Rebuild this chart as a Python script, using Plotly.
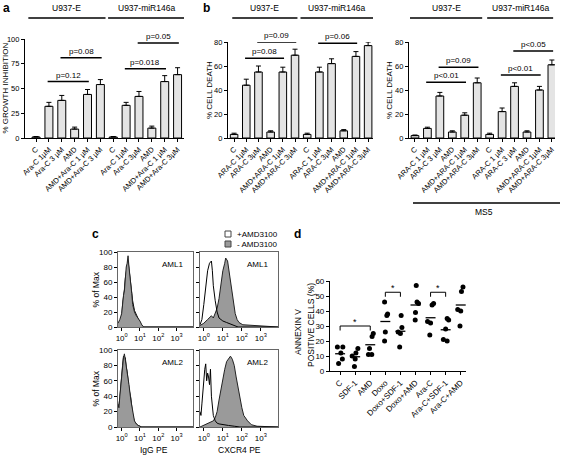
import plotly.graph_objects as go

W, H = 561, 456
FONT = "Arial, Liberation Sans, sans-serif"

# ---------------- Panel a data ----------------
a_labels = ["C", "Ara-C 1µM", "Ara-C 3 µM", "AMD", "AMD+Ara-C 1 µM", "AMD+Ara-C 3 µM",
            "C", "Ara-C 1µM", "Ara-C 3µM", "AMD", "AMD+Ara-C 1 µM", "AMD+Ara-C 3µM"]
a_values = [1, 32, 38, 9, 44, 54, 1, 33, 42, 10, 57, 64]
a_errors = [0.5, 4, 5, 2, 5, 5, 0.5, 3, 5, 2, 6, 7]
a_ptext = ["p=0.12", "p=0.08", "p=0.018", "p=0.05"]
a_pfrom = [1, 2, 7, 8]
a_pto = [4, 5, 10, 11]
a_py = [57, 81, 70, 96]

# ---------------- Panel b data (no stroma) ----------------
b_labels = ["C", "ARA-C 1µM", "ARA-C 3µM", "AMD", "AMD+ARA-C 1µM", "AMD+ARA-C 3µM",
            "C", "ARA-C 1 µM", "ARA-C 3µM", "AMD", "AMD+ARA-C 1µM", "AMD+ARA-C 3µM"]
b_values = [3, 44, 55, 5, 55, 69, 3, 55, 62, 6, 68, 77]
b_errors = [1, 5, 5, 1, 4, 5, 1, 4, 4, 1, 4, 3]
b_ptext = ["p=0.08", "p=0.09", "p=0.06", "p<0.05"]
b_pfrom = [1, 2, 7, 8]
b_pto = [4, 5, 10, 11]
b_py = [66.5, 80, 79, 87.5]

# ---------------- Panel b (MS5) data ----------------
m_labels = ["C", "ARA-C 1 µM", "ARA-C 3 µM", "AMD", "AMD+ARA-C 1µM", "AMD+ARA-C 3µM",
            "C", "ARA-C 1 µM", "ARA-C 3 µM", "AMD", "AMD+ARA-C 1µM", "AMD+ARA-C 3µM"]
m_values = [2, 8, 35, 5, 19, 46, 3, 22, 43, 5, 40, 61]
m_errors = [0.5, 1, 3, 1, 2, 4, 1, 3, 3, 1, 3, 4]
m_ptext = ["p<0.01", "p=0.09", "p<0.01", "p<0.05"]
m_pfrom = [1, 2, 7, 8]
m_pto = [4, 5, 10, 11]
m_py = [46.5, 59, 52.5, 72.5]

groups = ["U937-E", "U937-miR146a"]

# ---------------- Panel c data (log10 fluorescence, % of max) ----------------
igg1_x = [-0.2, -0.1, 0, 0.05, 0.1, 0.15, 0.2, 0.25, 0.3, 0.35, 0.4, 0.45, 0.5, 0.55, 0.6, 0.7, 0.8, 0.9, 1.0, 1.1, 1.2, 3.9]
igg1_minus = [5, 10, 18, 35, 42, 48, 70, 80, 85, 95, 80, 70, 55, 45, 30, 20, 15, 12, 8, 3, 0, 0]
igg1_plus = [3, 8, 12, 30, 38, 50, 65, 75, 80, 88, 78, 66, 60, 40, 35, 22, 16, 12, 6, 2, 0, 0]

cx1_x_plus = [-0.2, -0.1, 0, 0.1, 0.2, 0.3, 0.4, 0.45, 0.5, 0.6, 0.7, 0.8, 0.9, 1.0, 1.2, 1.4, 1.6, 1.8, 3.9]
cx1_plus = [3, 10, 30, 55, 75, 85, 88, 75, 55, 35, 20, 12, 10, 8, 6, 4, 2, 0, 0]
cx1_x_minus = [-0.2, 0, 0.2, 0.4, 0.5, 0.6, 0.7, 0.8, 0.9, 1.0, 1.1, 1.15, 1.25, 1.35, 1.45, 1.55, 1.65, 1.75, 1.85, 2.05, 3.9]
cx1_minus = [2, 5, 10, 15, 12, 18, 25, 38, 58, 75, 85, 92, 88, 70, 50, 30, 18, 10, 6, 3, 0]

igg2_x = [-0.2, -0.15, -0.1, -0.05, 0, 0.05, 0.1, 0.15, 0.2, 0.25, 0.3, 0.4, 0.5, 0.6, 0.7, 0.8, 0.9, 1.1, 3.9]
igg2_minus = [30, 25, 40, 55, 70, 85, 90, 95, 88, 80, 70, 55, 35, 18, 8, 4, 2, 0, 0]
igg2_plus = [25, 28, 38, 58, 66, 80, 92, 88, 90, 78, 72, 50, 38, 16, 7, 4, 2, 0, 0]

cx2_x_plus = [-0.2, -0.15, -0.1, -0.05, 0, 0.05, 0.1, 0.15, 0.2, 0.25, 0.3, 0.35, 0.4, 0.5, 0.6, 0.7, 0.8, 1.0, 1.3, 1.6, 1.9, 3.9]
cx2_plus = [20, 15, 30, 50, 60, 75, 82, 60, 70, 65, 55, 75, 40, 15, 8, 5, 4, 3, 2, 1, 0, 0]
cx2_x_minus = [-0.2, 0.1, 0.3, 0.5, 0.6, 0.7, 0.8, 0.9, 1.0, 1.1, 1.2, 1.3, 1.4, 1.5, 1.6, 1.7, 1.8, 1.9, 2.0, 2.1, 2.3, 2.5, 2.8, 3.9]
cx2_minus = [0, 3, 5, 8, 12, 20, 35, 50, 65, 75, 85, 88, 92, 88, 80, 65, 50, 35, 25, 15, 8, 3, 1, 0]

# ---------------- Panel d data ----------------
d_cats = ["C", "SDF-1", "AMD", "Doxo", "Doxo+SDF-1", "Doxo+AMD", "Ara-C", "Ara-C+SDF-1", "Ara-C+AMD"]
d_points = [
    [16, 16, 12, 8, 5],
    [15, 12, 10, 8, 3],
    [25, 23, 15, 11, 11],
    [46, 38, 37, 26, 20],
    [37, 29, 26, 25, 16],
    [57, 46, 45, 39, 34],
    [45, 44, 33, 32, 24],
    [35, 34, 28, 21, 20],
    [56, 53, 41, 40, 30],
]
d_means = [11.5, 9.5, 17.5, 33, 26.5, 44, 35.5, 27.5, 44]
d_brackets = [(0, 2, 30, "*"), (3, 5, 65, "**"), (3, 4, 52.5, "*"), (6, 8, 65, "**"), (6, 7, 52.5, "*")]
d_jitter = [[-0.18, 0.18, 0.05, 0.15, -0.1], [0.18, 0.05, -0.2, 0.0, -0.05],
            [0.2, 0.12, -0.05, -0.12, 0.1], [-0.05, 0.15, 0.1, 0.0, -0.05],
            [0.05, 0.1, -0.15, 0.0, -0.05], [0.05, 0.1, 0.2, 0.0, -0.02],
            [0.2, 0.1, -0.2, 0.0, -0.05], [0.1, 0.2, 0.0, -0.15, 0.1],
            [0.15, 0.05, -0.2, 0.0, -0.05]]


def dx(l, r):
    return [l / W, r / W]


def dy(top, bottom):
    return [1 - bottom / H, 1 - top / H]


def ptx(x):
    return x / W


def pty(y):
    return 1 - y / H


fig = go.Figure()
shapes = []
annos = []


def tf(size):
    return dict(family=FONT, size=size, color="black")


def add_text(text, x, y, xref="paper", yref="paper", size=8, angle=0, xanchor="center", yanchor="middle"):
    annos.append(dict(text=text, xref=xref, yref=yref, x=x, y=y, xanchor=xanchor, yanchor=yanchor,
                      textangle=angle, showarrow=False, font=tf(size)))


AX = dict(showgrid=False, zeroline=False, showline=True, linecolor="black", linewidth=1.2,
          ticks="outside", ticklen=3, tickcolor="black", automargin=False,
          ticklabeloverflow="allow")


def bar_panel(n, labels, values, errors, ptext, pfrom, pto, py, xdom, ydom, xrange, yrange,
              ytickvals, ytitle, ytitle_x, group_lines):
    xa = "x" if n == 1 else f"x{n}"
    ya = "y" if n == 1 else f"y{n}"
    fig.add_trace(go.Bar(
        x=list(range(len(values))), y=values, width=0.62,
        marker=dict(color="#e4e4e4", line=dict(color="black", width=1)),
        error_y=dict(type="data", array=errors, arrayminus=[0] * len(errors), symmetric=False,
                     color="black", thickness=1, width=2.5),
        xaxis=xa, yaxis=ya, showlegend=False))
    fig.layout[f"xaxis{'' if n == 1 else n}"] = dict(
        AX, domain=xdom, range=xrange, anchor=ya,
        tickvals=list(range(len(labels))), ticktext=labels, tickangle=-45, tickfont=tf(7.5))
    fig.layout[f"yaxis{'' if n == 1 else n}"] = dict(
        AX, domain=ydom, range=yrange, anchor=xa,
        tickvals=ytickvals, ticktext=[str(v) for v in ytickvals], tickfont=tf(7.5))
    for t, f, to, yv in zip(ptext, pfrom, pto, py):
        shapes.append(dict(type="line", xref=xa, yref=ya, x0=f - 0.1, x1=to + 0.1, y0=yv, y1=yv,
                           line=dict(color="black", width=1.5)))
        add_text(t, (f + to) / 2, yv, xref=xa, yref=ya, size=8, yanchor="bottom")
    for g, (x0, x1) in zip(groups, group_lines):
        shapes.append(dict(type="line", xref=xa, yref="paper", x0=x0, x1=x1,
                           y0=pty(18), y1=pty(18), line=dict(color="black", width=1.5)))
        add_text(g, (x0 + x1) / 2, pty(8), xref=xa, size=8.5)
    add_text(ytitle, ptx(ytitle_x), (ydom[0] + ydom[1]) / 2, size=8, angle=-90)


bar_panel(1, a_labels, a_values, a_errors, a_ptext, a_pfrom, a_pto, a_py,
          dx(25, 184), dy(39, 138), [-0.86, 11.5], [0, 100], [0, 25, 50, 75, 100],
          "% GROWTH INHIBITION", 5, [(-0.6, 5.4), (5.6, 11.5)])
bar_panel(2, b_labels, b_values, b_errors, b_ptext, b_pfrom, b_pto, b_py,
          dx(228, 373), dy(42, 138), [-0.5, 11.4], [0, 80], [0, 20, 40, 60, 80],
          "% CELL DEATH", 210, [(-0.15, 5.2), (5.45, 11.4)])
bar_panel(3, m_labels, m_values, m_errors, m_ptext, m_pfrom, m_pto, m_py,
          dx(409, 555), dy(42, 138), [-0.48, 11.25], [0, 80], [0, 20, 40, 60, 80],
          "% CELL DEATH", 390, [(-0.4, 5.4), (5.8, 11.1)])

shapes.append(dict(type="line", xref="paper", yref="paper", x0=ptx(413), x1=ptx(560),
                   y0=pty(203), y1=pty(203), line=dict(color="black", width=1.5)))
add_text("MS5", ptx(484), pty(212), size=8.5)

hist_specs = [
    (4, dx(118, 193), dy(252, 327), igg1_x, igg1_minus, igg1_x, igg1_plus, "AML1", True),
    (5, dx(200, 278), dy(252, 327), cx1_x_minus, cx1_minus, cx1_x_plus, cx1_plus, "AML1", False),
    (6, dx(118, 193), dy(350, 427), igg2_x, igg2_minus, igg2_x, igg2_plus, "AML2", True),
    (7, dx(200, 278), dy(350, 427), cx2_x_minus, cx2_minus, cx2_x_plus, cx2_plus, "AML2", False),
]
for n, xd, yd, xm, ym, xp, yp, lab, showy in hist_specs:
    xa, ya = f"x{n}", f"y{n}"
    filled = go.Scatter(x=xm, y=ym, mode="lines", fill="tozeroy", fillcolor="#9a9a9a",
                        line=dict(color="#222", width=1), xaxis=xa, yaxis=ya, showlegend=False)
    outline = go.Scatter(x=xp, y=yp, mode="lines", line=dict(color="black", width=1),
                         xaxis=xa, yaxis=ya, showlegend=False)
    if showy:
        # IgG controls: both curves coincide, keep the grey fill visible on top
        fig.add_trace(outline)
        fig.add_trace(filled)
    else:
        fig.add_trace(filled)
        fig.add_trace(outline)
    fig.layout[f"xaxis{n}"] = dict(
        AX, domain=xd, range=[-0.2, 3.9], anchor=ya, mirror=True, linecolor="#666", linewidth=1,
        tickvals=[0, 1, 2, 3], ticktext=["10<sup>0</sup>", "10<sup>1</sup>", "10<sup>2</sup>", "10<sup>3</sup>"],
        tickfont=tf(8))
    fig.layout[f"yaxis{n}"] = dict(
        AX, domain=yd, range=[0, 100], anchor=xa, mirror=True, linecolor="#666", linewidth=1,
        tickvals=[0, 20, 40, 60, 80, 100], ticktext=["0", "20", "40", "60", "80", "100"],
        showticklabels=showy, tickfont=tf(8))
    add_text(lab, xd[1] - 8 / W, yd[1] - 12 / H, size=8, xanchor="right")
    if showy:
        add_text("% of Max", ptx(95), (yd[0] + yd[1]) / 2, size=8.5, angle=-90)

add_text("IgG PE", ptx(154), pty(450), size=8.5)
add_text("CXCR4 PE", ptx(239), pty(450), size=8.5)
shapes.append(dict(type="rect", xref="paper", yref="paper", x0=ptx(225), x1=ptx(231),
                   y0=pty(237), y1=pty(231), fillcolor="white", line=dict(color="#444", width=1)))
shapes.append(dict(type="rect", xref="paper", yref="paper", x0=ptx(225), x1=ptx(231),
                   y0=pty(247), y1=pty(241), fillcolor="#9a9a9a", line=dict(color="#444", width=1)))
add_text("+AMD3100", ptx(235), pty(234), size=8, xanchor="left")
add_text("- AMD3100", ptx(235), pty(244), size=8, xanchor="left")

px, py_ = [], []
for i, (pts, jit) in enumerate(zip(d_points, d_jitter)):
    for v, j in zip(pts, jit):
        px.append(i + j)
        py_.append(v)
fig.add_trace(go.Scatter(x=px, y=py_, mode="markers", marker=dict(color="black", size=5),
                         xaxis="x8", yaxis="y8", showlegend=False))
mx, my = [], []
for i, m in enumerate(d_means):
    mx += [i - 0.33, i + 0.33, None]
    my += [m, m, None]
fig.add_trace(go.Scatter(x=mx, y=my, mode="lines", line=dict(color="black", width=1.3),
                         xaxis="x8", yaxis="y8", showlegend=False))
fig.layout["xaxis8"] = dict(
    AX, domain=dx(330, 466), range=[-0.67, 8.35], anchor="y8",
    tickvals=list(range(len(d_cats))), ticktext=d_cats, tickangle=-45, tickfont=tf(8))
fig.layout["yaxis8"] = dict(
    AX, domain=dy(281, 371), range=[0, 60], anchor="x8",
    tickvals=[0, 10, 20, 30, 40, 50, 60], ticktext=["0", "10", "20", "30", "40", "50", "60"],
    tickfont=tf(8))
for a0, a1, yv, s in d_brackets:
    shapes.append(dict(type="path", xref="x8", yref="y8",
                       path=f"M {a0} {yv - 3} L {a0} {yv} L {a1} {yv} L {a1} {yv - 3}",
                       line=dict(color="black", width=1)))
    annos.append(dict(text=s, xref="x8", yref="y8", x=(a0 + a1) / 2, y=yv, xanchor="center",
                      yanchor="bottom", showarrow=False, yshift=-3, font=tf(9)))
add_text("ANNEXIN V", ptx(298), pty(332), size=8.5, angle=-90)
add_text("POSITIVE CELLS (%)", ptx(311), pty(325), size=8.5, angle=-90)

for t, x, y in [("a", 6, 8), ("b", 206, 8), ("c", 95, 234), ("d", 297, 234)]:
    add_text(f"<b>{t}</b>", ptx(x), pty(y), size=12)

fig.update_layout(
    width=W, height=H, margin=dict(l=0, r=0, t=0, b=0),
    paper_bgcolor="white", plot_bgcolor="white",
    shapes=shapes, annotations=annos, bargap=0.3,
    font=dict(family=FONT, color="black"),
)
fig.write_html("out.html", config={"displayModeBar": False},
               post_script="document.body.style.margin='0';")
